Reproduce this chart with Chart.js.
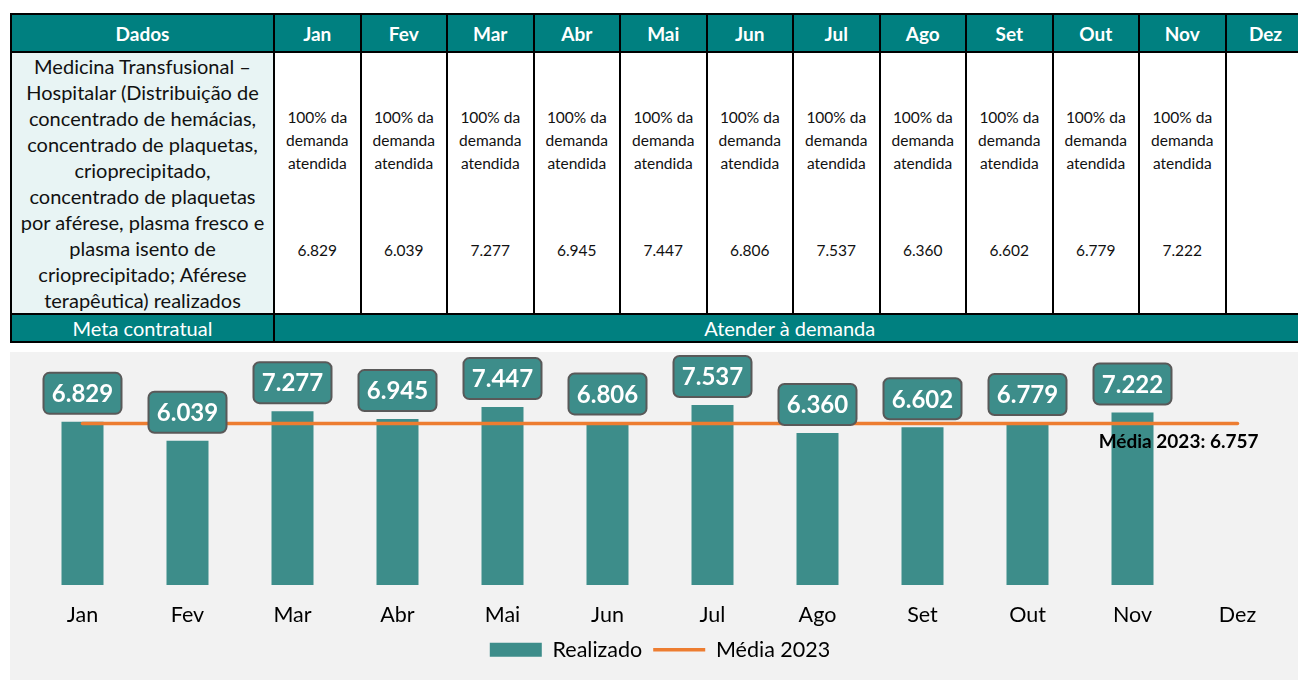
<!DOCTYPE html>
<html lang="pt-BR">
<head>
<meta charset="utf-8">
<title>Medicina Transfusional – Hospitalar</title>
<script src="https://cdn.jsdelivr.net/npm/chart.js@4.4.1/dist/chart.umd.min.js"></script>
<style>
    html, body { margin: 0; padding: 0; background: #fff; font-family: Lato, "Open Sans", sans-serif; }
    #dados { position: absolute; left: 10px; top: 13px; width: 1294px; border-collapse: collapse; table-layout: fixed; color: #111; }
    #dados th, #dados td { border: 2px solid #000; padding: 0; text-align: center; }
    #dados thead th { background: #008080; color: #fff; font-weight: 700; font-size: 19px; height: 36px; }
    #dados td.desc { background: #e8f4f4; font-size: 20px; line-height: 26px; height: 259px; white-space: nowrap; }
    #dados td.mes { vertical-align: top; font-size: 15.5px; line-height: 23px; }
    #dados td.mes .meta { margin-top: 53px; height: 69px; }
    #dados td.mes .valor { margin-top: 64px; }
    #dados tfoot td { background: #008080; color: #fff; font-size: 20px; height: 26px; line-height: 26px; }
    #grafico { position: absolute; left: 10px; top: 352px; width: 1288px; height: 328px; background: #f2f2f2; }
</style>
</head>
<body>
<table id="dados">
    <colgroup id="colunas"></colgroup>
    <thead><tr id="cabecalho"></tr></thead>
    <tbody><tr id="linha"></tr></tbody>
    <tfoot><tr id="rodape"></tr></tfoot>
</table>
<div id="grafico"><canvas id="realizadochart"></canvas></div>

<script>
"use strict";

/* dados */
var meses = ['Jan', 'Fev', 'Mar', 'Abr', 'Mai', 'Jun', 'Jul', 'Ago', 'Set', 'Out', 'Nov', 'Dez'];
var realizado = [6829, 6039, 7277, 6945, 7447, 6806, 7537, 6360, 6602, 6779, 7222, null];
var media2023 = [6757, 6757, 6757, 6757, 6757, 6757, 6757, 6757, 6757, 6757, 6757, 6757];
var descricao = [
    'Medicina Transfusional –',
    'Hospitalar (Distribuição de',
    'concentrado de hemácias,',
    'concentrado de plaquetas,',
    'crioprecipitado,',
    'concentrado de plaquetas',
    'por aférese, plasma fresco e',
    'plasma isento de',
    'crioprecipitado; Aférese',
    'terapêutica) realizados'
];
var metaMensal = ['100% da', 'demanda', 'atendida'];
var metaContratual = 'Atender à demanda';

var corBarra = '#3d8d8a';
var corLinha = '#ed7d31';

function fmt(v) {
    return String(v).replace(/\B(?=(\d{3})+(?!\d))/g, '.');
}

/* tabela */
var colunas = '<col style="width:263px">';
meses.forEach(function (m, i) {
    colunas += '<col style="width:' + (i < 11 ? 86.5 : 80) + 'px">';
});
document.getElementById('colunas').innerHTML = colunas;

var cab = '<th>Dados</th>';
meses.forEach(function (m) { cab += '<th>' + m + '</th>'; });
document.getElementById('cabecalho').innerHTML = cab;

var linha = '<td class="desc">' + descricao.join('<br>') + '</td>';
meses.forEach(function (m, i) {
    if (realizado[i] == null) {
        linha += '<td class="mes"></td>';
    } else {
        linha += '<td class="mes"><div class="meta">' + metaMensal.join('<br>') + '</div>' +
            '<div class="valor">' + fmt(realizado[i]) + '</div></td>';
    }
});
document.getElementById('linha').innerHTML = linha;

document.getElementById('rodape').innerHTML =
    '<td>Meta contratual</td><td colspan="' + meses.length + '">' + metaContratual + '</td>';

/* rotulos das barras e da media */
var rotulosPlugin = {
    id: 'rotulos',
    afterDatasetsDraw: function (chart) {
        var ctx = chart.ctx;
        var barras = chart.getDatasetMeta(1);
        ctx.save();
        barras.data.forEach(function (bar, i) {
            if (realizado[i] == null) return;
            var w = 78, h = 41;
            var x = bar.x - w / 2;
            var y = bar.y - 8 - h;
            ctx.beginPath();
            ctx.roundRect(x, y, w, h, 6);
            ctx.fillStyle = corBarra;
            ctx.fill();
            ctx.lineWidth = 2;
            ctx.strokeStyle = '#595959';
            ctx.stroke();
            ctx.fillStyle = '#fff';
            ctx.font = 'bold 24px Lato';
            ctx.textAlign = 'center';
            ctx.textBaseline = 'middle';
            ctx.fillText(fmt(realizado[i]), bar.x, y + h / 2 + 1);
        });
        var linha = chart.getDatasetMeta(0);
        var ult = linha.data[linha.data.length - 1];
        ctx.font = 'bold 19px Lato';
        ctx.fillStyle = '#000';
        ctx.textAlign = 'right';
        ctx.textBaseline = 'middle';
        ctx.fillText('Média 2023: ' + fmt(media2023[media2023.length - 1]), ult.x + 21, ult.y + 18);
        ctx.restore();
    }
};

var realizadochart = document.getElementById('realizadochart').getContext('2d');

var realizadoConfig = {
    type: 'bar',
    data: {
        labels: meses,
        datasets: [{
            type: 'line',
            label: 'Média 2023',
            data: media2023,
            borderColor: corLinha,
            backgroundColor: corLinha,
            borderWidth: 3.5,
            borderCapStyle: 'round',
            pointRadius: 0,
            fill: false,
            tension: 0
        },
        {
            label: 'Realizado',
            data: realizado,
            backgroundColor: corBarra,
            barPercentage: 0.4,
            categoryPercentage: 1
        }]
    },
    options: {
        animation: false,
        responsive: true,
        maintainAspectRatio: false,
        layout: {
            padding: { top: 18, left: 20, right: 8, bottom: 9.5 }
        },
        plugins: {
            tooltip: { enabled: false },
            legend: {
                position: 'bottom',
                labels: {
                    usePointStyle: true,
                    pointStyleWidth: 52,
                    boxHeight: 14,
                    padding: 11,
                    color: '#000',
                    font: { family: 'Lato', size: 21.5 },
                    generateLabels: function () {
                        return [
                            { text: 'Realizado', fillStyle: corBarra, strokeStyle: corBarra, lineWidth: 0, pointStyle: 'rect', datasetIndex: 1, hidden: false, fontColor: '#000' },
                            { text: 'Média 2023', fillStyle: corLinha, strokeStyle: corLinha, lineWidth: 3.5, pointStyle: 'line', datasetIndex: 0, hidden: false, fontColor: '#000' }
                        ];
                    }
                }
            }
        },
        scales: {
            y: {
                display: false,
                min: 0,
                max: 9000
            },
            x: {
                grid: { display: false, drawTicks: false },
                border: { display: false },
                ticks: {
                    padding: 17,
                    color: '#000',
                    font: { family: 'Lato', size: 21.5 }
                },
                afterFit: function (scale) {
                    scale.height = 43;
                }
            }
        }
    },
    plugins: [rotulosPlugin]
};

var myRealizadoChart = new Chart(realizadochart, realizadoConfig);
</script>
</body>
</html>
